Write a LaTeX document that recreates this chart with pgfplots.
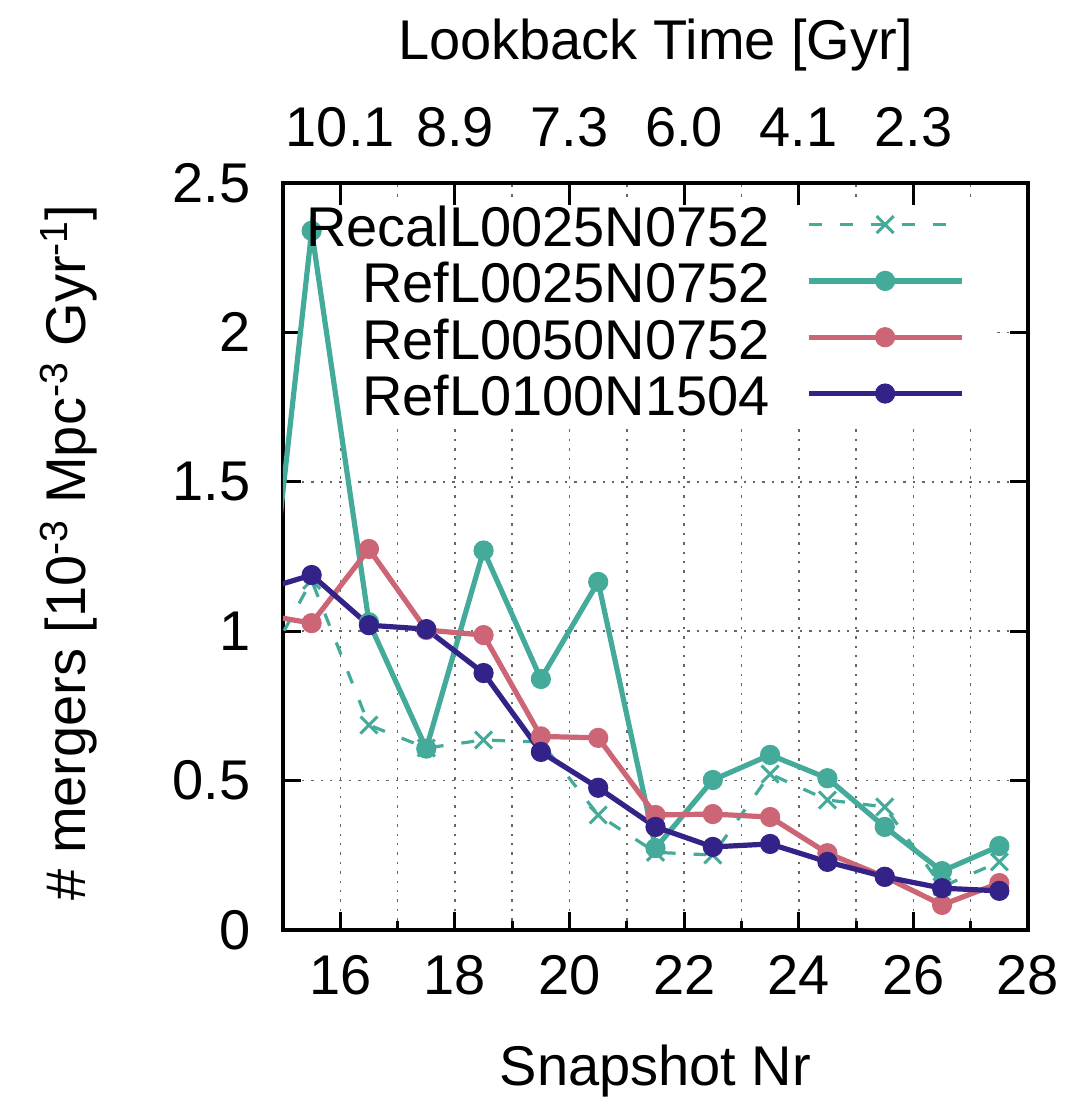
\documentclass[border=0pt]{standalone}
\usepackage{fontspec}
\setmainfont{Liberation Sans}
\usepackage{pgfplots}
\pgfplotsset{compat=1.18}
\definecolor{cteal}{HTML}{44AA99}
\definecolor{crose}{HTML}{CC6677}
\definecolor{cindigo}{HTML}{332288}
\newcommand\fs{\fontsize{28}{33}\selectfont}
\begin{document}
\fs
\begin{tikzpicture}
\path[use as bounding box] (-141.5pt,-88.5pt) rectangle (398.5pt,465pt);
\begin{axis}[
 at={(0,0)}, anchor=south west,
 scale only axis, width=372.5pt, height=373.5pt,
 xmin=15, xmax=28, ymin=0, ymax=2.5,
 xtick={16,18,...,28}, xticklabels={16,18,20,22,24,26,28},
 minor xtick={17,19,...,27},
 ytick={0,0.5,1,1.5,2,2.5}, yticklabels={0,0.5,1,1.5,2,2.5},
 xtick pos=left,
 tick align=inside,
 major tick length=9pt, minor tick length=4.5pt,
 every tick/.style={black, line width=1.5pt},
 axis line style={line width=2pt},
 grid=both,
 major grid style={gray!80!black, line width=0.8pt, dash pattern=on 1.2pt off 3.5pt},
 minor grid style={gray!80!black, line width=0.8pt, dash pattern=on 1.2pt off 3.5pt},
 tick label style={font=\fs},
 label style={font=\fs},
 xticklabel style={anchor=north, inner sep=0pt, yshift=-12.5pt},
 yticklabel style={anchor=east, inner sep=0pt, xshift=-16pt},
 xlabel={Snapshot Nr},
 xlabel style={at={(axis description cs:0.5,-0.2075)}, anchor=base},
 ylabel={\# mergers [10\textsuperscript{-3} Mpc\textsuperscript{-3} Gyr\textsuperscript{-1}]},
 ylabel style={at={(axis description cs:-0.265,0.505)}, anchor=base},
 legend style={draw=none, fill=none, at={(rel axis cs:0.923,0.975)}, anchor=north east,
   font=\fs, nodes={inner sep=0pt}, row sep=3.7pt, column sep=18pt},
 legend cell align=right,
 legend plot pos=right,
 legend image code/.code={\draw[mark repeat=2,mark phase=2,#1] plot coordinates {(0pt,3pt) (38.25pt,3pt) (76.5pt,3pt)};},
]
\fill[white] (axis cs:15.27,1.697) rectangle (axis cs:27.39,2.433);
\addplot[cteal, line width=1.6pt, dash pattern=on 6.5pt off 9pt, mark=x, mark size=6pt, mark options={solid, line width=1.5pt}] coordinates {
(14.5,0.82) (15.5,1.17) (16.5,0.686) (17.5,0.609) (18.5,0.636) (19.5,0.629) (20.5,0.385) (21.5,0.26) (22.5,0.251) (23.5,0.522) (24.5,0.435) (25.5,0.412) (26.5,0.145) (27.5,0.228)};
\addlegendentry{RecalL0025N0752}
\addplot[cteal, line width=2.6pt, mark=*, mark size=4.8pt, mark options={solid, line width=0.5pt, fill=cteal}] coordinates {
(14.5,0.60) (15.5,2.34) (16.5,1.03) (17.5,0.607) (18.5,1.27) (19.5,0.84) (20.5,1.165) (21.5,0.274) (22.5,0.502) (23.5,0.586) (24.5,0.508) (25.5,0.345) (26.5,0.197) (27.5,0.281)};
\addlegendentry{RefL0025N0752}
\addplot[crose, line width=2.6pt, mark=*, mark size=4.8pt, mark options={solid, line width=0.5pt, fill=crose}] coordinates {
(14.5,1.06) (15.5,1.027) (16.5,1.275) (17.5,1.004) (18.5,0.987) (19.5,0.648) (20.5,0.643) (21.5,0.385) (22.5,0.388) (23.5,0.378) (24.5,0.257) (25.5,0.178) (26.5,0.084) (27.5,0.157)};
\addlegendentry{RefL0050N0752}
\addplot[cindigo, line width=2.6pt, mark=*, mark size=4.8pt, mark options={solid, line width=0.5pt, fill=cindigo}] coordinates {
(14.5,1.13) (15.5,1.188) (16.5,1.02) (17.5,1.007) (18.5,0.86) (19.5,0.596) (20.5,0.476) (21.5,0.345) (22.5,0.278) (23.5,0.288) (24.5,0.228) (25.5,0.178) (26.5,0.14) (27.5,0.131)};
\addlegendentry{RefL0100N1504}
\end{axis}
\begin{axis}[
 at={(0,0)}, anchor=south west,
 scale only axis, width=372.5pt, height=373.5pt,
 xmin=15, xmax=28, ymin=0, ymax=2.5,
 axis x line*=top, hide y axis,
 xtick={16,18,20,22,24,26}, xticklabels={10.1,8.9,7.3,6.0,4.1,2.3},
 tick align=inside, major tick length=11pt,
 every tick/.style={black, line width=1.5pt},
 axis line style={line width=2pt},
 tick label style={font=\fs},
 label style={font=\fs},
 xticklabel style={anchor=base, inner sep=0pt, yshift=18pt},
 xlabel={Lookback Time [Gyr]},
 xlabel style={at={(axis description cs:0.5,1.165)}, anchor=base},
]
\addplot[draw=none] coordinates {(15,0) (28,0)};
\end{axis}
\end{tikzpicture}
\end{document}
